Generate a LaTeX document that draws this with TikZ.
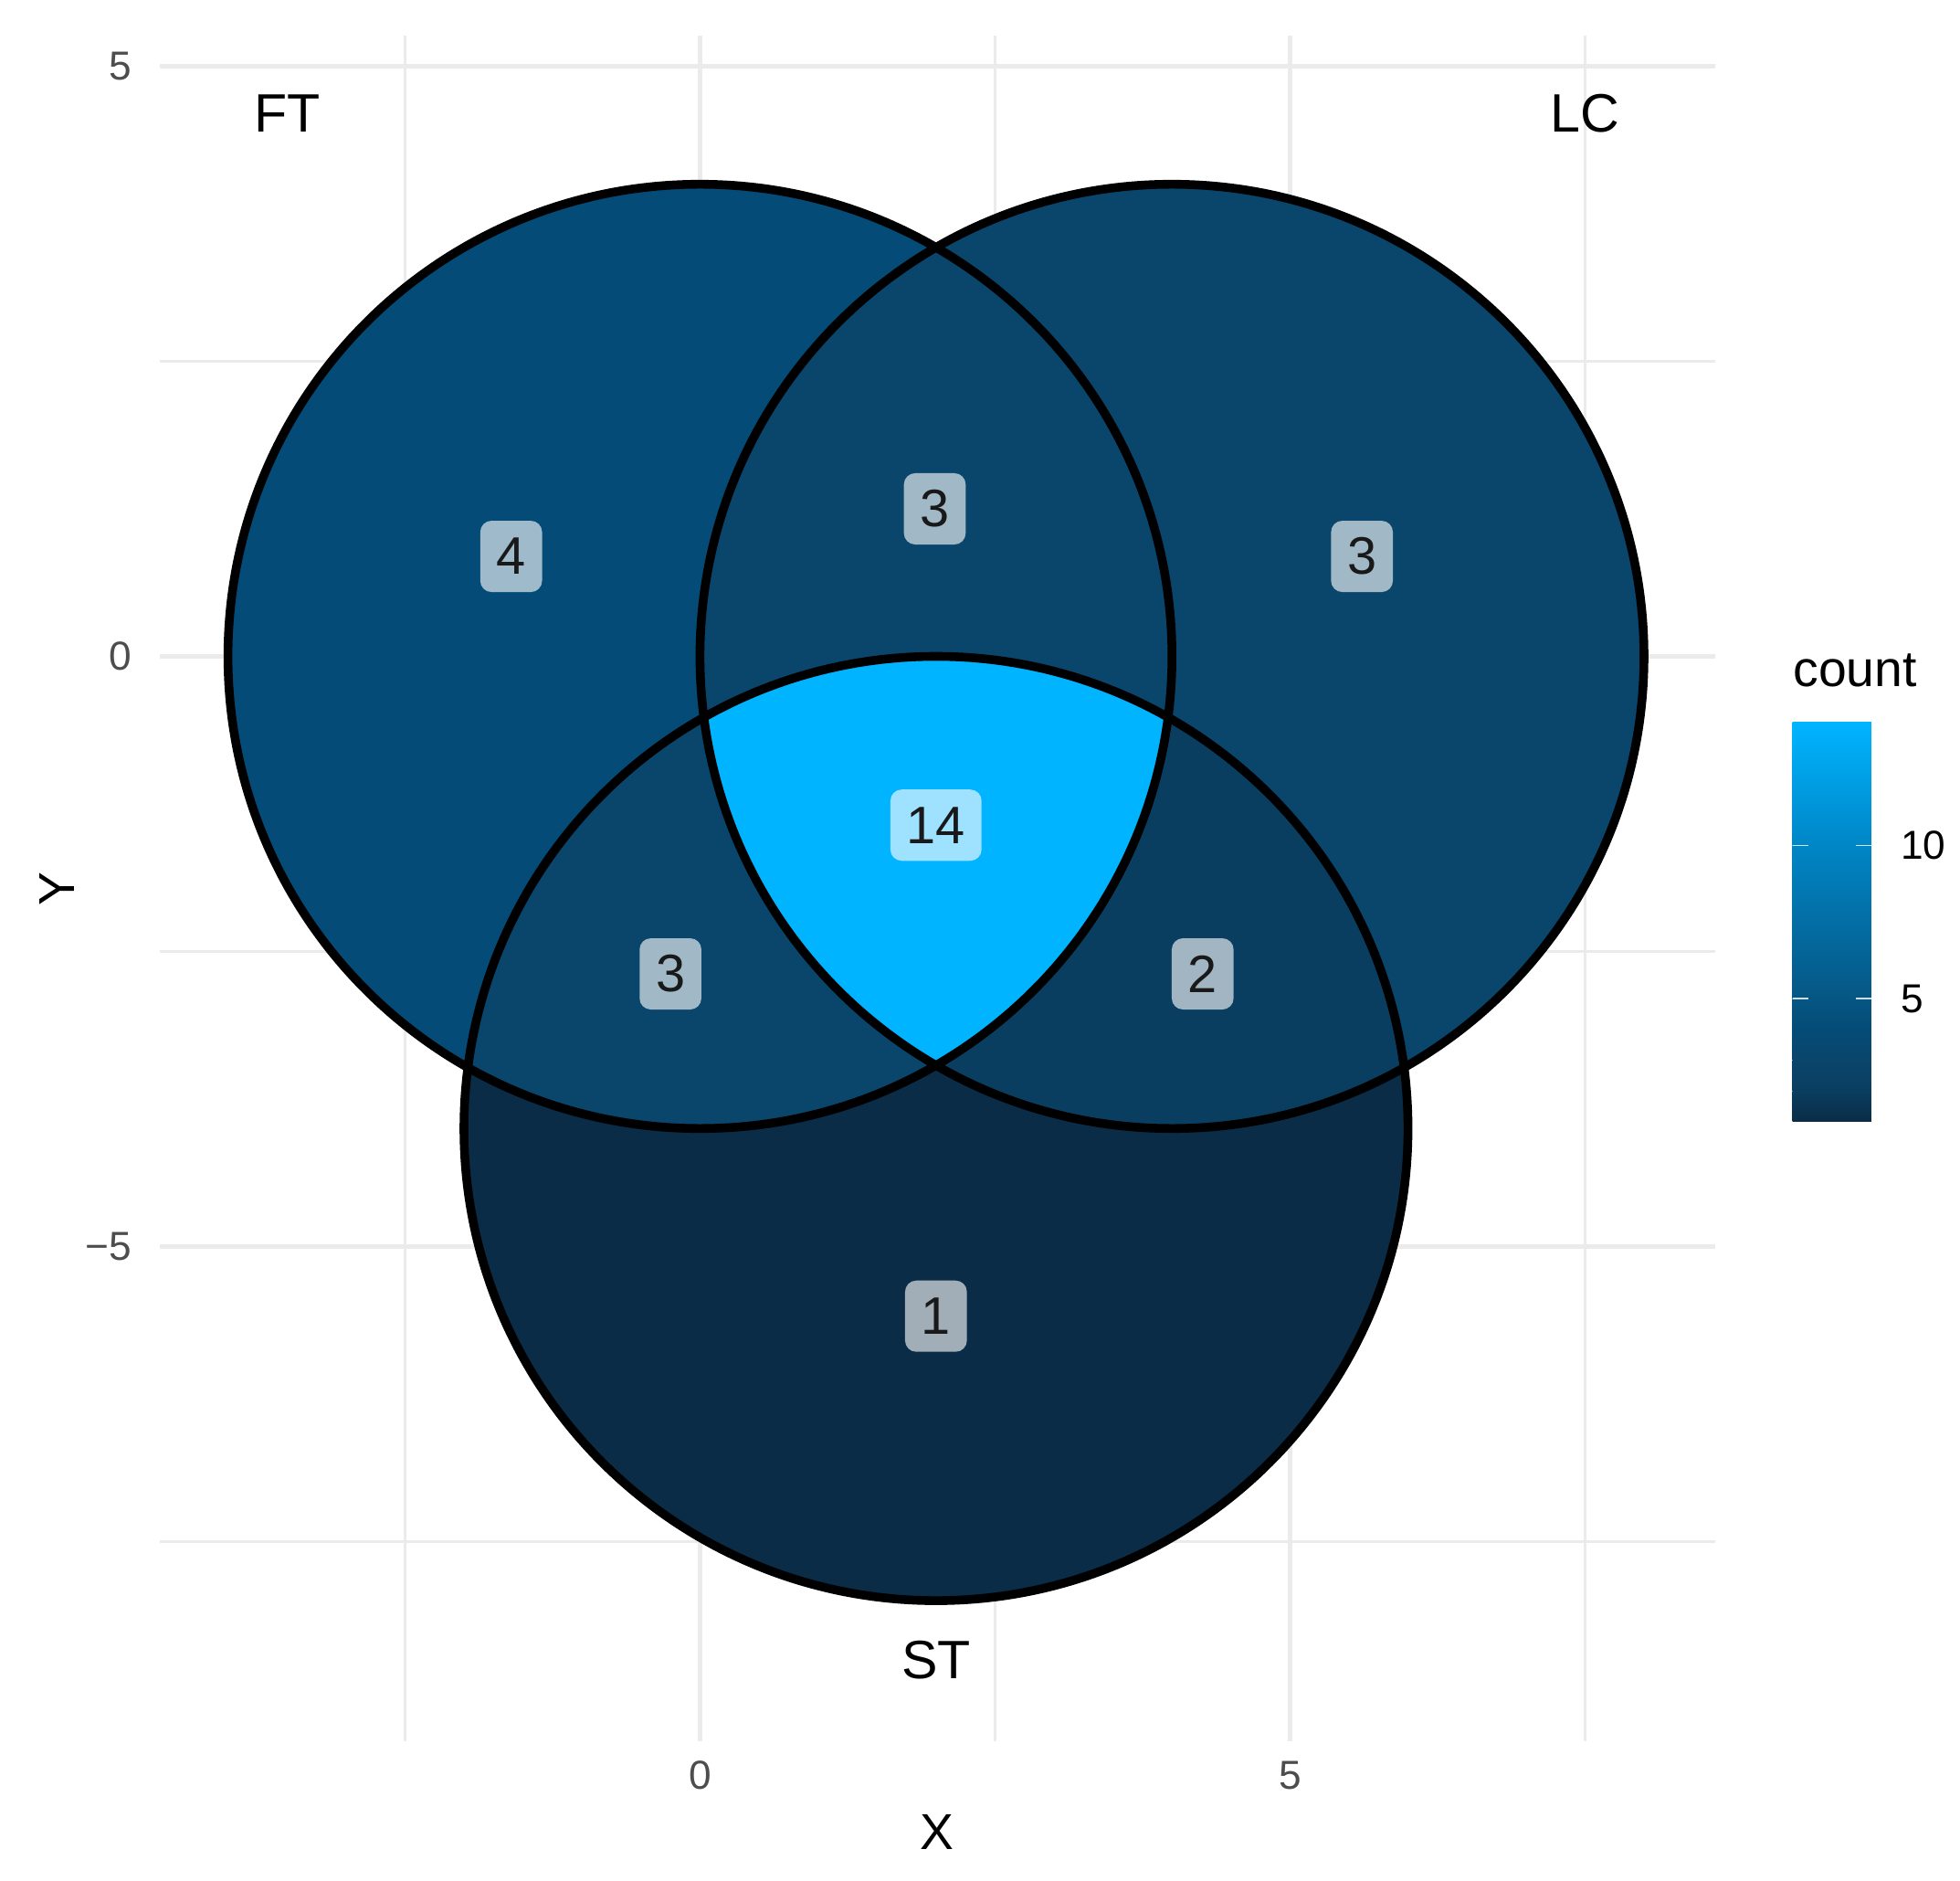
\documentclass[tikz,border=0pt]{standalone}
\usepackage{fontspec}
\setmainfont{Liberation Sans}
\definecolor{cA}{HTML}{0A2C46}
\definecolor{cB}{HTML}{0A3E60}
\definecolor{cC}{HTML}{0A456C}
\definecolor{cD}{HTML}{044C77}
\definecolor{cE}{HTML}{00B4FF}
\definecolor{cF}{HTML}{065683}
\definecolor{cG}{HTML}{0086C6}
\definecolor{gridc}{HTML}{EBEBEB}
\definecolor{tickc}{HTML}{4D4D4D}
\begin{document}
\begin{tikzpicture}[x=0.944cm,y=0.944cm,
  majorgrid/.style={draw=gridc,line width=0.034cm},
  minorgrid/.style={draw=gridc,line width=0.017cm},
  setline/.style={draw=black,line width=0.07cm},
  ticklab/.style={text=tickc,font=\fontsize{9.2}{11}\selectfont,inner sep=0pt},
  axtitle/.style={text=black,font=\fontsize{11.5}{13}\selectfont,inner sep=0pt},
  setname/.style={text=black,font=\fontsize{12.3}{14}\selectfont,inner sep=0pt},
  cntlab/.style={fill=white,fill opacity=0.62,text opacity=1,text=black!90,
    rounded corners=0.09cm,inner xsep=0.13cm,inner ysep=0pt,minimum height=0.57cm,
    font=\fontsize{12}{14}\selectfont},
  legtick/.style={draw=white,draw opacity=0.8,line width=0.012cm},
  leglab/.style={text=black,font=\fontsize{9.2}{11}\selectfont,inner sep=0pt,anchor=west}]
\useasboundingbox (-5.932,-10.371) rectangle (10.678,5.561);
\fill[white] (-5.932,-10.371) rectangle (10.678,5.561);
% grid
\foreach \x in {-2.5,2.5,7.5} \draw[minorgrid] (\x,-9.19) -- (\x,5.26);
\foreach \y in {2.5,-2.5,-7.5} \draw[minorgrid] (-4.58,\y) -- (8.6,\y);
\foreach \x in {0,5} \draw[majorgrid] (\x,-9.19) -- (\x,5.26);
\foreach \y in {5,0,-5} \draw[majorgrid] (-4.58,\y) -- (8.6,\y);
% regions
\fill[cD] (0,0) circle (4);
\fill[cC] (4,0) circle (4);
\fill[cA] (2,-4) circle (4);
\begin{scope}
  \clip (0,0) circle (4);
  \fill[cC] (4,0) circle (4);
  \fill[cC] (2,-4) circle (4);
\end{scope}
\begin{scope}
  \clip (4,0) circle (4);
  \fill[cB] (2,-4) circle (4);
\end{scope}
\begin{scope}
  \clip (0,0) circle (4);
  \clip (4,0) circle (4);
  \fill[cE] (2,-4) circle (4);
\end{scope}
\draw[setline] (0,0) circle (4);
\draw[setline] (4,0) circle (4);
\draw[setline] (2,-4) circle (4);
% count labels
\node[cntlab] (n4) at (-1.60,0.847) {4};
\node[cntlab] (n3a) at (1.99,1.25) {3};
\node[cntlab] (n3b) at (5.61,0.847) {3};
\node[cntlab] (n14) at (2.0,-1.43) {14};
\node[cntlab] (n3c) at (-0.25,-2.69) {3};
\node[cntlab] (n2) at (4.26,-2.69) {2};
\node[cntlab] (n1) at (2.0,-5.59) {1};
% set names
\node[setname] (ft) at (-3.5,4.6) {FT};
\node[setname] (lc) at (7.5,4.6) {LC};
\node[setname] (st) at (2,-8.5) {ST};
% axes
\node[ticklab,anchor=east] (yt5) at (-4.81,5) {5};
\node[ticklab,anchor=east] (yt0) at (-4.81,0) {0};
\node[ticklab,anchor=east] (ytm5) at (-4.81,-5) {−5};
\node[ticklab] (xt0) at (0,-9.48) {0};
\node[ticklab] (xt5) at (5,-9.48) {5};
\node[axtitle] (xlab) at (2.01,-9.96) {X};
\node[axtitle,rotate=90] (ylab) at (-5.45,-1.97) {Y};
% legend
\node[axtitle,anchor=base west] (legt) at (9.258,-0.254) {count};
\shade[bottom color=cA,top color=cB] (9.258,-3.941) rectangle (9.926,-3.681);
\shade[bottom color=cB,top color=cC] (9.258,-3.682) rectangle (9.926,-3.421);
\shade[bottom color=cC,top color=cD] (9.258,-3.422) rectangle (9.926,-3.161);
\shade[bottom color=cD,top color=cF] (9.258,-3.162) rectangle (9.926,-2.901);
\shade[bottom color=cF,top color=cG] (9.258,-2.902) rectangle (9.926,-1.601);
\shade[bottom color=cG,top color=cE] (9.258,-1.602) rectangle (9.926,-0.561);
\foreach \y in {-1.601,-2.901} {
  \draw[legtick] (9.258,\y) -- (9.39,\y);
  \draw[legtick] (9.794,\y) -- (9.926,\y);
}
\node[leglab] (l10) at (10.17,-1.601) {10};
\node[leglab] (l5) at (10.17,-2.901) {5};
\end{tikzpicture}
\end{document}
